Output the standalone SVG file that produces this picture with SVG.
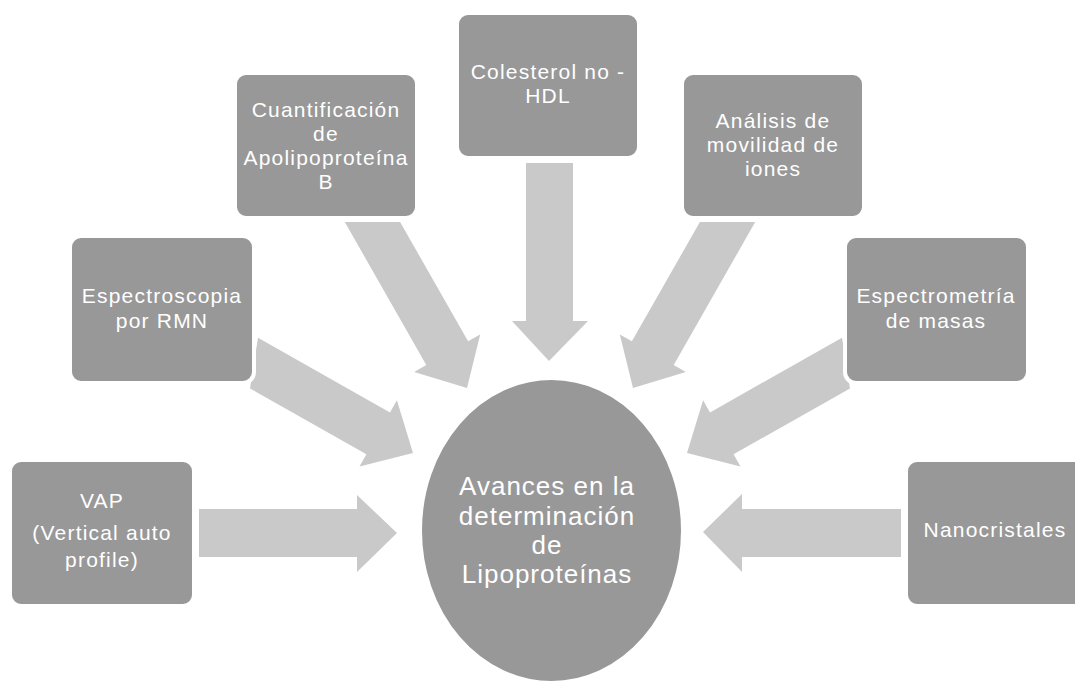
<svg xmlns="http://www.w3.org/2000/svg" width="1075" height="684" viewBox="0 0 1075 684">
<style>
.box{fill:#989898;stroke:#ffffff;stroke-width:4}
.arrow{fill:#c9c9c9}
.t{font-family:"Liberation Sans",Arial,sans-serif;font-size:21px;fill:#ffffff;text-anchor:middle;letter-spacing:1.2px}
.tc{font-family:"Liberation Sans",Arial,sans-serif;font-size:26px;fill:#ffffff;text-anchor:middle;letter-spacing:1px}
</style>
<rect width="1075" height="684" fill="#ffffff"/>
<g id="connectors">
<polygon class="arrow" points="199,509 357,509 357,495 397,533 357,572 357,557 199,557"/>
<polygon class="arrow" points="901,509 742,509 742,494 703,532 742,572 742,557 901,557"/>
<polygon class="arrow" points="526,163 573,163 573,321 588,321 549,361 512,321 526,321"/>
<polygon class="arrow" points="344.8,222 400.1,222 468.1,341.3 480.2,334.4 467,388 414.2,372 426.3,365.1"/>
<polygon class="arrow" points="755.2,222 699.9,222 631.9,341.3 619.8,334.4 633,388 685.8,372 673.7,365.1"/>
<polygon class="arrow" points="258,337.7 390,412.4 396.9,400.2 413,453 359.5,466.4 366.4,454.2 250,388.4"/>
<polygon class="arrow" points="842,337.7 710,412.4 703.1,400.2 687,453 740.5,466.4 733.6,454.2 850,388.4"/>
</g>
<g id="node-vap">
<rect class="box" x="10" y="460" width="184" height="146" rx="11"/>
<text class="t" x="102" y="508">VAP</text>
<text class="t" x="102" y="540">(Vertical auto</text>
<text class="t" x="102" y="567">profile)</text>
</g>
<g id="node-rmn">
<rect class="box" x="70" y="236" width="184" height="147" rx="11"/>
<text class="t" x="162" y="303">Espectroscopia</text>
<text class="t" x="162" y="328">por RMN</text>
</g>
<g id="node-apob">
<rect class="box" x="235" y="73" width="182" height="145" rx="11"/>
<text class="t" x="326" y="117">Cuantificación</text>
<text class="t" x="326" y="141">de</text>
<text class="t" x="326" y="165">Apolipoproteína</text>
<text class="t" x="326" y="189">B</text>
</g>
<g id="node-hdl">
<rect class="box" x="457" y="13" width="182" height="145" rx="11"/>
<text class="t" x="548" y="79">Colesterol no -</text>
<text class="t" x="548" y="103">HDL</text>
</g>
<g id="node-iones">
<rect class="box" x="682" y="73" width="182" height="145" rx="11"/>
<text class="t" x="773" y="128">Análisis de</text>
<text class="t" x="773" y="152">movilidad de</text>
<text class="t" x="773" y="176">iones</text>
</g>
<g id="node-masas">
<rect class="box" x="845" y="236" width="183" height="147" rx="11"/>
<text class="t" x="936" y="303">Espectrometría</text>
<text class="t" x="936" y="328">de masas</text>
</g>
<g id="node-nano">
<rect class="box" x="906" y="460" width="184" height="146" rx="11"/>
<text class="t" x="995" y="537">Nanocristales</text>
</g>
<g id="node-center">
<ellipse class="box" cx="551.5" cy="530.5" rx="131.5" ry="152.5"/>
<text class="tc" x="547" y="495">Avances en la</text>
<text class="tc" x="547" y="525">determinación</text>
<text class="tc" x="547" y="554">de</text>
<text class="tc" x="547" y="583">Lipoproteínas</text>
</g>
</svg>
